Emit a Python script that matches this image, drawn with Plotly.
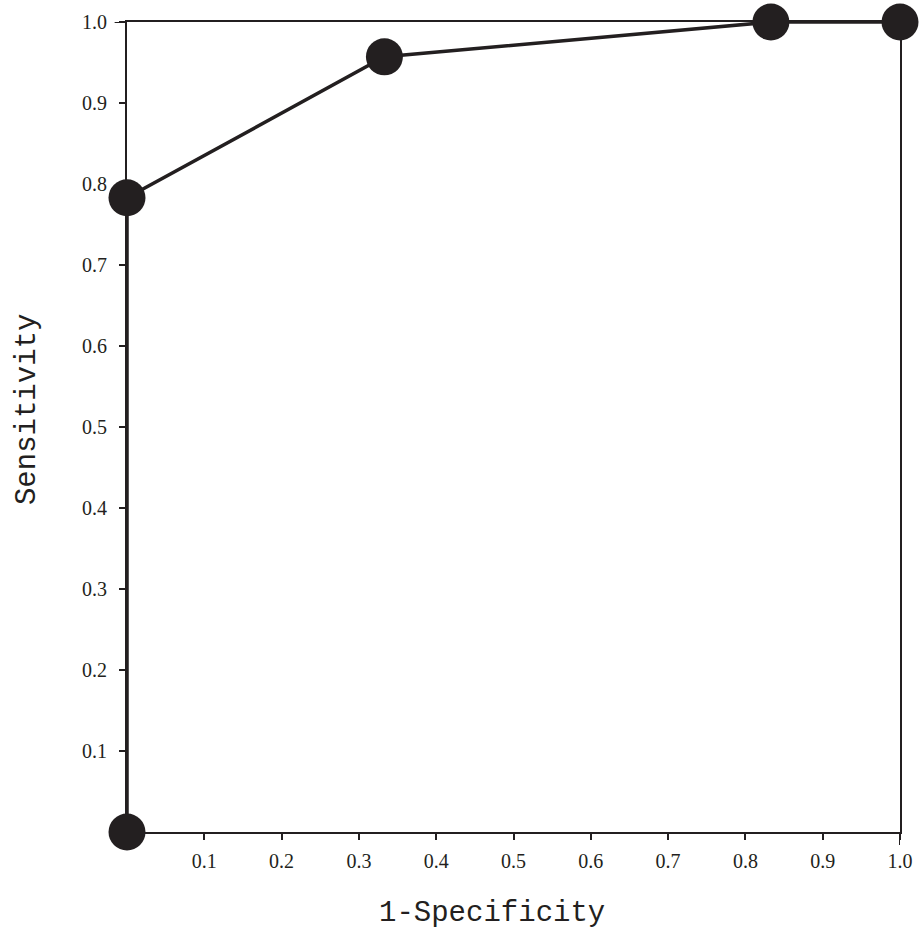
import plotly.graph_objects as go

fpr = [0.0, 0.0, 0.333, 0.833, 1.0]
sensitivity = [0.0, 0.783, 0.957, 1.0, 1.0]
tick_vals = [0.1, 0.2, 0.3, 0.4, 0.5, 0.6, 0.7, 0.8, 0.9, 1.0]
tick_text = ["0.1", "0.2", "0.3", "0.4", "0.5", "0.6", "0.7", "0.8", "0.9", "1.0"]
x_title = "1-Specificity"
y_title = "Sensitivity"

ink = "#231f20"

fig = go.Figure()
fig.add_trace(go.Scatter(
    x=fpr, y=sensitivity, mode="lines+markers",
    line=dict(color=ink, width=3.5),
    marker=dict(color=ink, size=37),
    cliponaxis=False, showlegend=False,
))

axis_common = dict(
    range=[0, 1], showgrid=False, zeroline=False,
    showline=True, linecolor=ink, linewidth=2, mirror=True,
    ticks="outside", ticklen=6, tickwidth=2, tickcolor=ink,
    tickvals=tick_vals, ticktext=tick_text,
    tickfont=dict(family="Liberation Serif", size=20, color=ink),
)

fig.update_xaxes(**axis_common, ticklabelstandoff=4)
fig.update_yaxes(**axis_common, ticklabelstandoff=8)

title_font = dict(family="Liberation Mono", size=29, color=ink)
fig.add_annotation(text=x_title, xref="paper", yref="paper", x=0.472, y=-0.1,
                   showarrow=False, font=title_font, xanchor="center", yanchor="middle")
fig.add_annotation(text=y_title, xref="paper", yref="paper", x=-0.128, y=0.521,
                   showarrow=False, font=title_font, textangle=-90,
                   xanchor="center", yanchor="middle")

# longer end ticks at 1.0
fig.add_shape(type="line", xref="x", yref="paper", x0=1, x1=1, y0=0, y1=-0.016,
              line=dict(color=ink, width=2))
fig.add_shape(type="line", xref="paper", yref="y", x0=0, x1=-0.016, y0=1, y1=1,
              line=dict(color=ink, width=2))

fig.update_layout(
    width=922, height=932,
    margin=dict(l=127, r=22, t=22, b=100, autoexpand=False),
    plot_bgcolor="white", paper_bgcolor="white",
    hovermode=False,
)

fig.write_html(
    "out.html",
    config={"displayModeBar": False, "staticPlot": True},
    post_script="document.body.style.margin='0';document.body.style.overflow='hidden';",
)
